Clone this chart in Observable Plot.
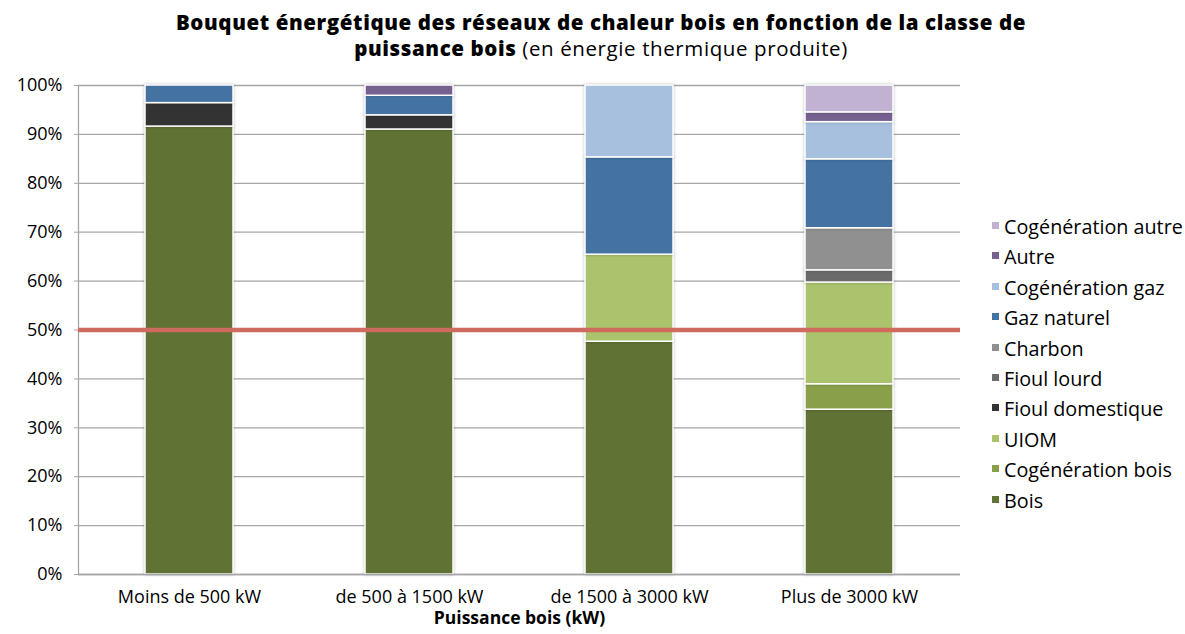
<!DOCTYPE html>
<html>
<head>
<meta charset="utf-8">
<script src="https://cdn.jsdelivr.net/npm/d3@7"></script>
<script src="https://cdn.jsdelivr.net/npm/@observablehq/plot@0.6"></script>
<style>
  body { margin: 0; background: #fff; font-family: "Open Sans", sans-serif; }
  #wrap { position: relative; width: 1185px; height: 634px; overflow: hidden; }
  .tline { position: absolute; left: 0; width: 1202px; text-align: center; line-height: 24px; height: 24px; color: #000; white-space: nowrap; }
  .tline b { font-weight: 800; }
  #chart { position: absolute; left: 0; top: 68px; }
  #legend { position: absolute; left: 992px; top: 212px; color: #000; }
  #legend .item { height: 30.4px; line-height: 30.4px; white-space: nowrap; }
  #legend .sw { display: inline-block; width: 7px; height: 7px; margin-right: 5px; vertical-align: 5px; }
  #chart rect.bar { filter: drop-shadow(0 0 1.5px rgba(0,0,0,0.25)); }
</style>
</head>
<body>
<div id="wrap">
  <div class="tline" id="t1" style="top:10px"><b>Bouquet énergétique des réseaux de chaleur bois en fonction de la classe de</b></div>
  <div class="tline" id="t2" style="top:36px"><b>puissance bois</b> (en énergie thermique produite)</div>
  <div id="chart"></div>
  <div id="legend"></div>
</div>
<script>
const categories = ["Moins de 500 kW", "de 500 à 1500 kW", "de 1500 à 3000 kW", "Plus de 3000 kW"];
const series = ["Bois", "Cogénération bois", "UIOM", "Fioul domestique", "Fioul lourd", "Charbon", "Gaz naturel", "Cogénération gaz", "Autre", "Cogénération autre"];
const colors = ["#607234", "#8a9f4a", "#abc36c", "#333333", "#6b6b6b", "#909090", "#4473a2", "#a7c0de", "#76608f", "#c1b2d2"];
// values in % per series, one per category
const bois              = [91.6, 91.0, 47.6, 33.7];
const cogenerationBois  = [0, 0, 0, 5.2];
const uiom              = [0, 0, 17.8, 20.8];
const fioulDomestique   = [4.8, 2.9, 0, 0];
const fioulLourd        = [0, 0, 0, 2.5];
const charbon           = [0, 0, 0, 8.6];
const gazNaturel        = [3.6, 4.0, 19.9, 14.1];
const cogenerationGaz   = [0, 0, 14.7, 7.6];
const autre             = [0, 2.1, 0, 2.0];
const cogenerationAutre = [0, 0, 0, 5.5];
const yTicks = [0, 0.1, 0.2, 0.3, 0.4, 0.5, 0.6, 0.7, 0.8, 0.9, 1];
const threshold = 0.5;

const valuesBySeries = [bois, cogenerationBois, uiom, fioulDomestique, fioulLourd, charbon, gazNaturel, cogenerationGaz, autre, cogenerationAutre];
const data = [];
categories.forEach((c, i) => {
  series.forEach((s, j) => {
    const v = valuesBySeries[j][i];
    if (v > 0) data.push({category: c, series: s, value: v / 100});
  });
});

// font sizing: fit Open Sans to the widths of the reference's texts
const FAMILY = '"Open Sans", sans-serif';
const ctx = document.createElement("canvas").getContext("2d");
function measure(text, size, weight) {
  ctx.font = `${weight} ${size}px ${FAMILY}`;
  return ctx.measureText(text).width;
}
function fit(text, target, weight) {
  return 100 * target / measure(text, 100, weight);
}
const titleText = "Bouquet énergétique des réseaux de chaleur bois en fonction de la classe de";
const titleSize = Math.min(20.5, fit(titleText, 930, 800));
const titleSpacing = Math.max(0, Math.min(0.6, (930 - measure(titleText, titleSize, 800)) / titleText.length));
const tickSize = Math.min(18, fit("Moins de 500 kW", 154, 400), fit("100%", 51, 400));
const legendSize = fit("Cogénération autre", 179, 400);
const xTitleSize = Math.min(17.5, fit("Puissance bois (kW)", 196, 700));
for (const id of ["t1", "t2"]) {
  const el = document.getElementById(id);
  el.style.fontSize = titleSize + "px";
  el.style.letterSpacing = titleSpacing + "px";
}
document.getElementById("legend").style.fontSize = legendSize + "px";

const chart = Plot.plot({
  width: 1185,
  height: 566,
  marginTop: 17,
  marginBottom: 60,
  marginLeft: 78,
  marginRight: 225,
  style: {fontFamily: FAMILY, fontSize: tickSize + "px", color: "#000", background: "#fff", overflow: "visible"},
  x: {domain: categories, paddingInner: 0.6, paddingOuter: 0.3, label: null},
  y: {domain: [0, 1], label: null},
  color: {domain: series, range: colors},
  marks: [
    Plot.gridY(yTicks, {stroke: "#a6a6a6", strokeOpacity: 1, strokeWidth: 1.3}),
    Plot.axisY(yTicks, {tickFormat: d3.format(".0%"), tickSize: 4, tickPadding: 12, stroke: "#a6a6a6", fontSize: tickSize, fill: "#000"}),
    Plot.axisX({tickSize: 0, tickPadding: 16, fontSize: tickSize, fill: "#000"}),
    Plot.barY(data, {x: "category", y: "value", fill: "series", stroke: "#fff", strokeWidth: 1.5}),
    Plot.frame({anchor: "left", stroke: "#a6a6a6", strokeWidth: 1.3}),
    Plot.ruleY([0], {stroke: "#a6a6a6", strokeWidth: 1.3}),
    Plot.ruleY([threshold], {stroke: "#cf6a5f", strokeWidth: 4.5}),
    Plot.text(["Puissance bois (kW)"], {frameAnchor: "bottom", dy: 49, fontWeight: "bold", fontSize: xTitleSize, fill: "#000"})
  ]
});
document.getElementById("chart").appendChild(chart);
chart.querySelectorAll("g[aria-label='bar'] rect").forEach(r => r.classList.add("bar"));

const legend = document.getElementById("legend");
series.slice().reverse().forEach(s => {
  const item = document.createElement("div");
  item.className = "item";
  const sw = document.createElement("span");
  sw.className = "sw";
  sw.style.background = colors[series.indexOf(s)];
  item.appendChild(sw);
  item.appendChild(document.createTextNode(s));
  legend.appendChild(item);
});
</script>
</body>
</html>
